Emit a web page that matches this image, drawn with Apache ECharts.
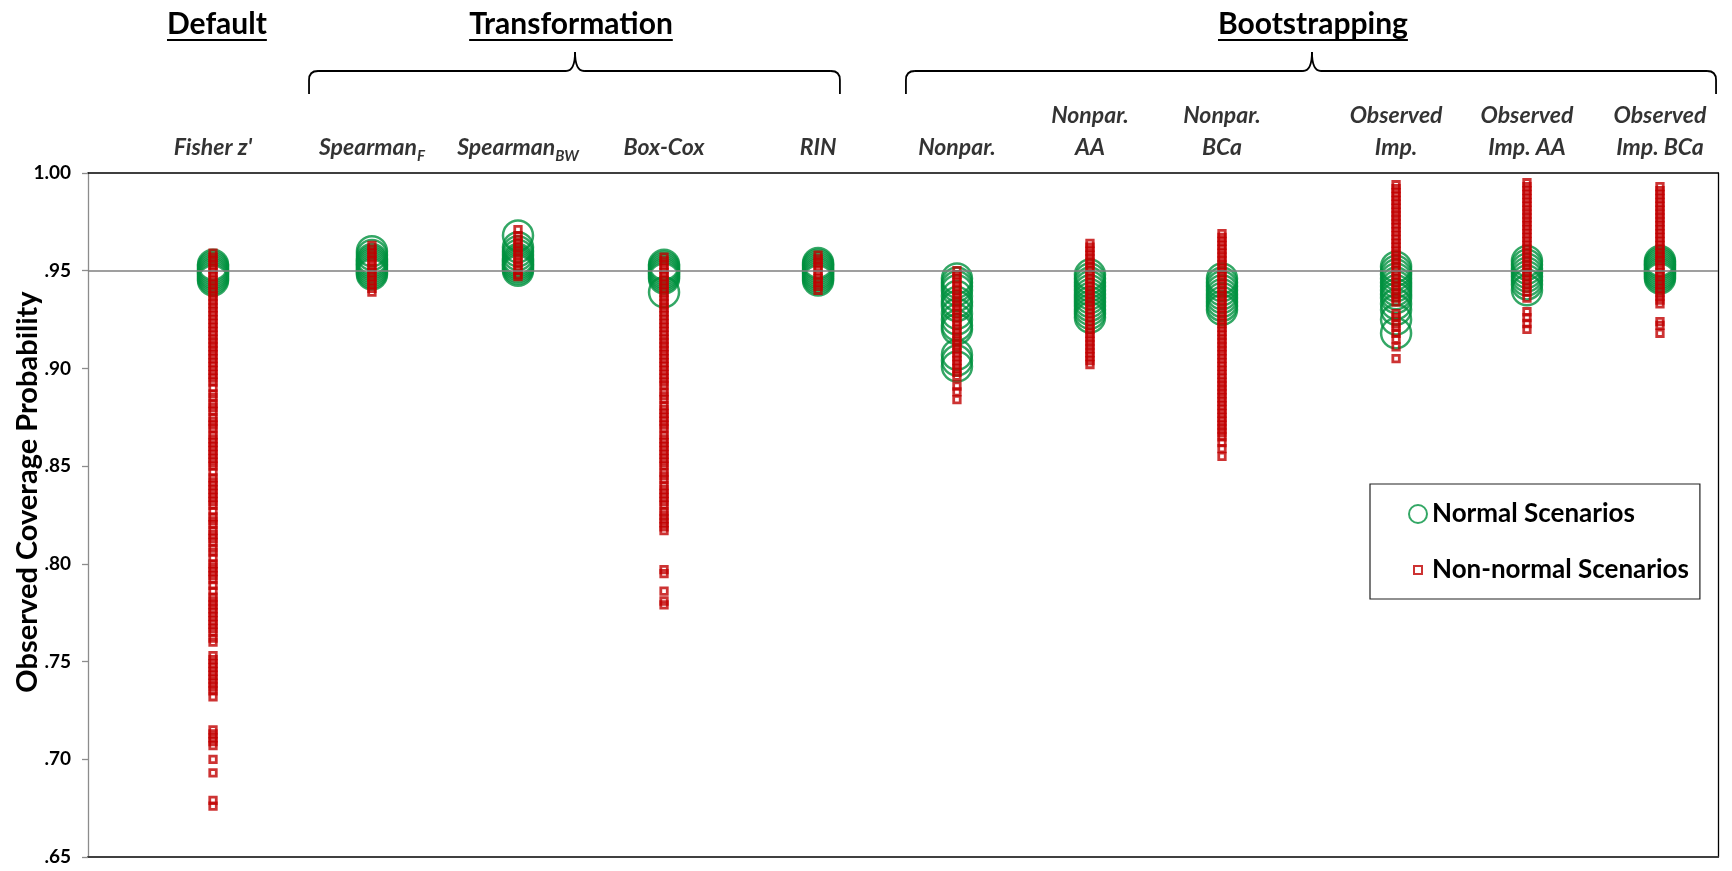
<!DOCTYPE html>
<html><head><meta charset="utf-8">
<script src="https://cdn.jsdelivr.net/npm/echarts@6/dist/echarts.min.js"></script>
<style>html,body{margin:0;padding:0;background:#fff}#c{width:1732px;height:871px}</style>
</head><body><div id="c"></div>
<script>
// ---------------- data ----------------
const categories = ["Fisher z'", "Spearman{sub|F}", "Spearman{sub|BW}", "Box-Cox", "RIN",
  "Nonpar.", "Nonpar.\nAA", "Nonpar.\nBCa", "Observed\nImp.", "Observed\nImp. AA", "Observed\nImp. BCa"];
const xPositions = [7.67, 17.42, 26.38, 35.34, 44.79, 53.31, 61.47, 69.57, 80.25, 88.28, 96.44];
const groupNames = ["Default", "Transformation", "Bootstrapping"];
const yTickValues = [0.65, 0.70, 0.75, 0.80, 0.85, 0.90, 0.95, 1.00];
const referenceLevel = 0.95;

// Normal scenarios (green circles)
const normalFisher   = [.953,.952,.951,.950,.949,.948,.947,.946,.945];
const normalSpearF   = [.960,.958,.956,.955,.954,.953,.952,.951,.950,.949,.948];
const normalSpearBW  = [.968,.962,.960,.958,.956,.955,.954,.953,.952,.951,.950];
const normalBoxCox   = [.953,.952,.951,.950,.949,.948,.947,.946,.939];
const normalRIN      = [.954,.953,.952,.951,.950,.949,.948,.947,.946,.945];
const normalNonpar   = [.946,.944,.942,.940,.937,.934,.932,.928,.925,.922,.920,.907,.904,.901];
const normalNonparAA = [.948,.946,.944,.942,.940,.938,.936,.934,.932,.930,.928,.926];
const normalNonparBCa= [.946,.944,.942,.940,.938,.936,.934,.932,.930];
const normalObsImp   = [.952,.950,.948,.946,.944,.942,.940,.938,.936,.933,.930,.925,.918];
const normalObsImpAA = [.955,.953,.951,.949,.947,.945,.943,.940];
const normalObsImpBCa= [.955,.954,.953,.952,.951,.950,.949,.948,.947,.946];

// Non-normal scenarios (red squares)
const nonnormalFisher = [.959,.957,.955,.953,.951,.949,.947,.945,.943,.941,.939,.937,.935,.933,.931,.929,.927,.925,.923,.921,.919,.917,.915,.913,.911,.909,.907,.905,.903,.901,.899,.897,.895,.893,.890,.887,.885,.882,.880,.878,.875,.873,.871,.869,.866,.864,.862,.860,.858,.856,.854,.852,.850,.847,.844,.842,.840,.838,.836,.834,.832,.830,.827,.824,.822,.820,.817,.815,.813,.811,.808,.806,.803,.800,.798,.796,.794,.792,.789,.786,.783,.781,.779,.777,.775,.773,.771,.769,.767,.765,.762,.760,.753,.751,.749,.747,.745,.743,.741,.739,.737,.735,.732,.715,.713,.711,.709,.707,.700,.693,.679,.676];
const nonnormalSpearF = [.963,.961,.959,.957,.955,.953,.951,.949,.947,.945,.943,.941,.939];
const nonnormalSpearBW = [.971,.968,.966,.964,.962,.960,.958,.956,.954,.952,.950,.948,.947];
const nonnormalBoxCox = [.957,.955,.953,.951,.949,.947,.945,.943,.941,.939,.937,.935,.933,.931,.929,.927,.925,.923,.921,.919,.917,.915,.913,.911,.909,.907,.905,.903,.901,.899,.897,.895,.893,.891,.888,.886,.884,.881,.879,.877,.875,.873,.871,.869,.866,.864,.862,.860,.858,.856,.854,.852,.850,.847,.845,.843,.840,.838,.836,.834,.832,.830,.827,.825,.823,.821,.819,.817,.797,.795,.786,.781,.779];
const nonnormalRIN = [.958,.956,.954,.952,.950,.948,.946,.944,.942,.940];
const nonnormalNonpar = [.950,.948,.946,.944,.942,.940,.938,.936,.934,.932,.930,.928,.926,.924,.922,.920,.918,.916,.914,.912,.910,.908,.906,.904,.902,.900,.898,.896,.891,.888,.884];
const nonnormalNonparAA = [.964,.962,.960,.958,.956,.954,.952,.950,.948,.946,.944,.942,.940,.938,.936,.934,.932,.930,.928,.926,.924,.922,.920,.918,.916,.914,.912,.910,.908,.906,.904,.902];
const nonnormalNonparBCa = [.969,.967,.965,.963,.961,.959,.957,.955,.953,.951,.949,.947,.945,.943,.941,.939,.937,.935,.933,.931,.929,.927,.925,.923,.921,.919,.917,.915,.913,.911,.909,.907,.905,.903,.901,.899,.897,.895,.893,.891,.889,.887,.885,.883,.881,.879,.877,.875,.873,.871,.869,.867,.865,.862,.859,.855];
const nonnormalObsImp = [.994,.992,.990,.988,.986,.984,.982,.980,.978,.976,.974,.972,.970,.968,.966,.964,.962,.960,.958,.956,.954,.952,.950,.948,.946,.944,.942,.940,.938,.936,.934,.928,.926,.923,.921,.918,.915,.911,.905];
const nonnormalObsImpAA = [.995,.993,.991,.989,.987,.985,.983,.981,.979,.977,.975,.973,.971,.969,.967,.965,.963,.961,.959,.957,.955,.953,.951,.949,.947,.945,.943,.941,.939,.936,.929,.926,.923,.920];
const nonnormalObsImpBCa = [.993,.991,.989,.987,.985,.983,.981,.979,.977,.975,.973,.971,.969,.967,.965,.963,.961,.959,.957,.955,.953,.951,.949,.947,.945,.943,.941,.939,.937,.935,.933,.924,.922,.918];

const normalLists = [normalFisher, normalSpearF, normalSpearBW, normalBoxCox, normalRIN, normalNonpar,
  normalNonparAA, normalNonparBCa, normalObsImp, normalObsImpAA, normalObsImpBCa];
const nonnormalLists = [nonnormalFisher, nonnormalSpearF, nonnormalSpearBW, nonnormalBoxCox, nonnormalRIN,
  nonnormalNonpar, nonnormalNonparAA, nonnormalNonparBCa, nonnormalObsImp, nonnormalObsImpAA, nonnormalObsImpBCa];

// ---------------- layout / style ----------------
const FONT = 'Lato';
const GREEN = '#00913F', RED = '#C00000';
const groupLayout = [
  {title: 0, center: 7.91, brace: null},
  {title: 1, center: 29.63, brace: [13.56, 29.88, 46.13]},
  {title: 2, center: 75.15, brace: [50.18, 75.09, 99.88]}
];

const normalData = [], nonnormalData = [];
normalLists.forEach((arr, i) => arr.forEach(v => normalData.push([xPositions[i], v])));
nonnormalLists.forEach((arr, i) => arr.forEach(v => nonnormalData.push([xPositions[i], v])));

const chart = echarts.init(document.getElementById('c'));
const fmtY = v => v > 0.999 ? '1.00' : '.' + String(Math.round(v * 100));

chart.setOption({
  animation: false,
  backgroundColor: '#fff',
  grid: {left: 88, right: 14, top: 173, bottom: 14},
  xAxis: [
    {type: 'value', min: 0, max: 100, position: 'bottom',
     axisLine: {show: true, onZero: false, lineStyle: {color: '#404040', width: 2}},
     axisTick: {show: false}, axisLabel: {show: false}, splitLine: {show: false}},
    {type: 'value', min: 0, max: 100, position: 'top',
     axisLine: {show: true, onZero: false, lineStyle: {color: '#000', width: 1.5}},
     axisTick: {show: false}, axisLabel: {show: false}, splitLine: {show: false}}
  ],
  yAxis: [
    {type: 'value', min: yTickValues[0], max: yTickValues[yTickValues.length - 1], interval: 0.05,
     axisLine: {show: true, onZero: false, lineStyle: {color: '#8c8c8c', width: 1.3}},
     axisTick: {show: true, length: 6, lineStyle: {color: '#8c8c8c', width: 1.3}},
     axisLabel: {fontFamily: FONT, fontWeight: 'bold', fontSize: 19, color: '#000', margin: 17, formatter: fmtY},
     splitLine: {show: false}},
    {type: 'value', min: yTickValues[0], max: yTickValues[yTickValues.length - 1], interval: 0.05, position: 'right',
     axisLine: {show: true, onZero: false, lineStyle: {color: '#000', width: 1.3}},
     axisTick: {show: false}, axisLabel: {show: false}, splitLine: {show: false}}
  ],
  legend: {
    data: ['Normal Scenarios', {name: 'Non-normal Scenarios', icon: 'path://M0,0 M5,5 L13,5 L13,13 L5,13 Z M18,18'}],
    orient: 'vertical', left: 1370, top: 484,
    padding: [17, 11, 16, 38], itemGap: 30, itemWidth: 18, itemHeight: 18,
    borderColor: '#222', borderWidth: 1.2, backgroundColor: '#fff', selectedMode: false,
    textStyle: {fontFamily: FONT, fontWeight: 'bold', fontSize: 26, color: '#000'}
  },
  series: [
    {name: 'Normal Scenarios', type: 'scatter', data: normalData, symbol: 'circle', symbolSize: 30,
     itemStyle: {color: 'rgba(255,255,255,0)', borderColor: GREEN, borderWidth: 2.5}, clip: false,
     markLine: {silent: true, symbol: 'none', label: {show: false},
       lineStyle: {color: '#7f7f7f', width: 1.5, type: 'solid'}, data: [{yAxis: referenceLevel}]}},
    {name: 'Non-normal Scenarios', type: 'scatter', data: nonnormalData, symbol: 'rect', symbolSize: 6.5,
     itemStyle: {color: 'rgba(255,255,255,0)', borderColor: RED, borderWidth: 2.8}, clip: false},
    {name: 'labels', type: 'scatter', silent: true, clip: false, symbolSize: 0,
     data: categories.map((c, i) => ({name: c, value: [xPositions[i], yTickValues[yTickValues.length - 1]]})),
     label: {show: true, position: 'top', distance: 9, formatter: p => p.name,
       fontFamily: FONT, fontStyle: 'italic', fontWeight: 'bold', fontSize: 23, lineHeight: 32, color: '#000',
       rich: {sub: {fontFamily: FONT, fontStyle: 'italic', fontWeight: 'bold', fontSize: 15, lineHeight: 18,
         verticalAlign: 'bottom', color: '#000'}}}}
  ]
});

// group headers, underlines and braces
const ctx = document.createElement('canvas').getContext('2d');
const TITLE_SIZE = 30;
ctx.font = 'bold ' + TITLE_SIZE + 'px ' + FONT;
const px = v => chart.convertToPixel({xAxisIndex: 0}, v);
const graphics = [];
const stroke = {stroke: '#000', lineWidth: 1.8, fill: null};
const seg = (x1, y1, x2, y2) => ({type: 'line', shape: {x1, y1, x2, y2}, style: stroke});
const curve = (x1, y1, x2, y2, cpx1, cpy1) => ({type: 'bezierCurve', shape: {x1, y1, x2, y2, cpx1, cpy1}, style: stroke});
groupLayout.forEach(g => {
  const name = groupNames[g.title];
  const cx = px(g.center);
  const w = ctx.measureText(name).width;
  graphics.push({type: 'text', x: cx, y: 24, style: {text: name, fontFamily: FONT, fontWeight: 'bold', fontSize: TITLE_SIZE,
    fill: '#000', align: 'center', verticalAlign: 'middle'}});
  graphics.push(seg(cx - w / 2, 40, cx + w / 2, 40));
  if (g.brace) {
    const [a, m, b] = g.brace.map(px);
    const y0 = 71, y1 = 94, yt = 52, r = 9;
    graphics.push(seg(a, y1, a, y0 + r));
    graphics.push(curve(a, y0 + r, a + r, y0, a, y0));
    graphics.push(seg(a + r, y0, m - r, y0));
    graphics.push(curve(m - r, y0, m, yt, m, y0));
    graphics.push(curve(m, yt, m + r, y0, m, y0));
    graphics.push(seg(m + r, y0, b - r, y0));
    graphics.push(curve(b - r, y0, b, y0 + r, b, y0));
    graphics.push(seg(b, y0 + r, b, y1));
  }
});
graphics.push({type: 'text', x: 28, y: 492, rotation: Math.PI / 2,
  style: {text: 'Observed Coverage Probability', fontFamily: FONT, fontWeight: 'bold', fontSize: 29, fill: '#000',
    align: 'center', verticalAlign: 'middle'}});
chart.setOption({graphic: graphics});
</script>
</body></html>
